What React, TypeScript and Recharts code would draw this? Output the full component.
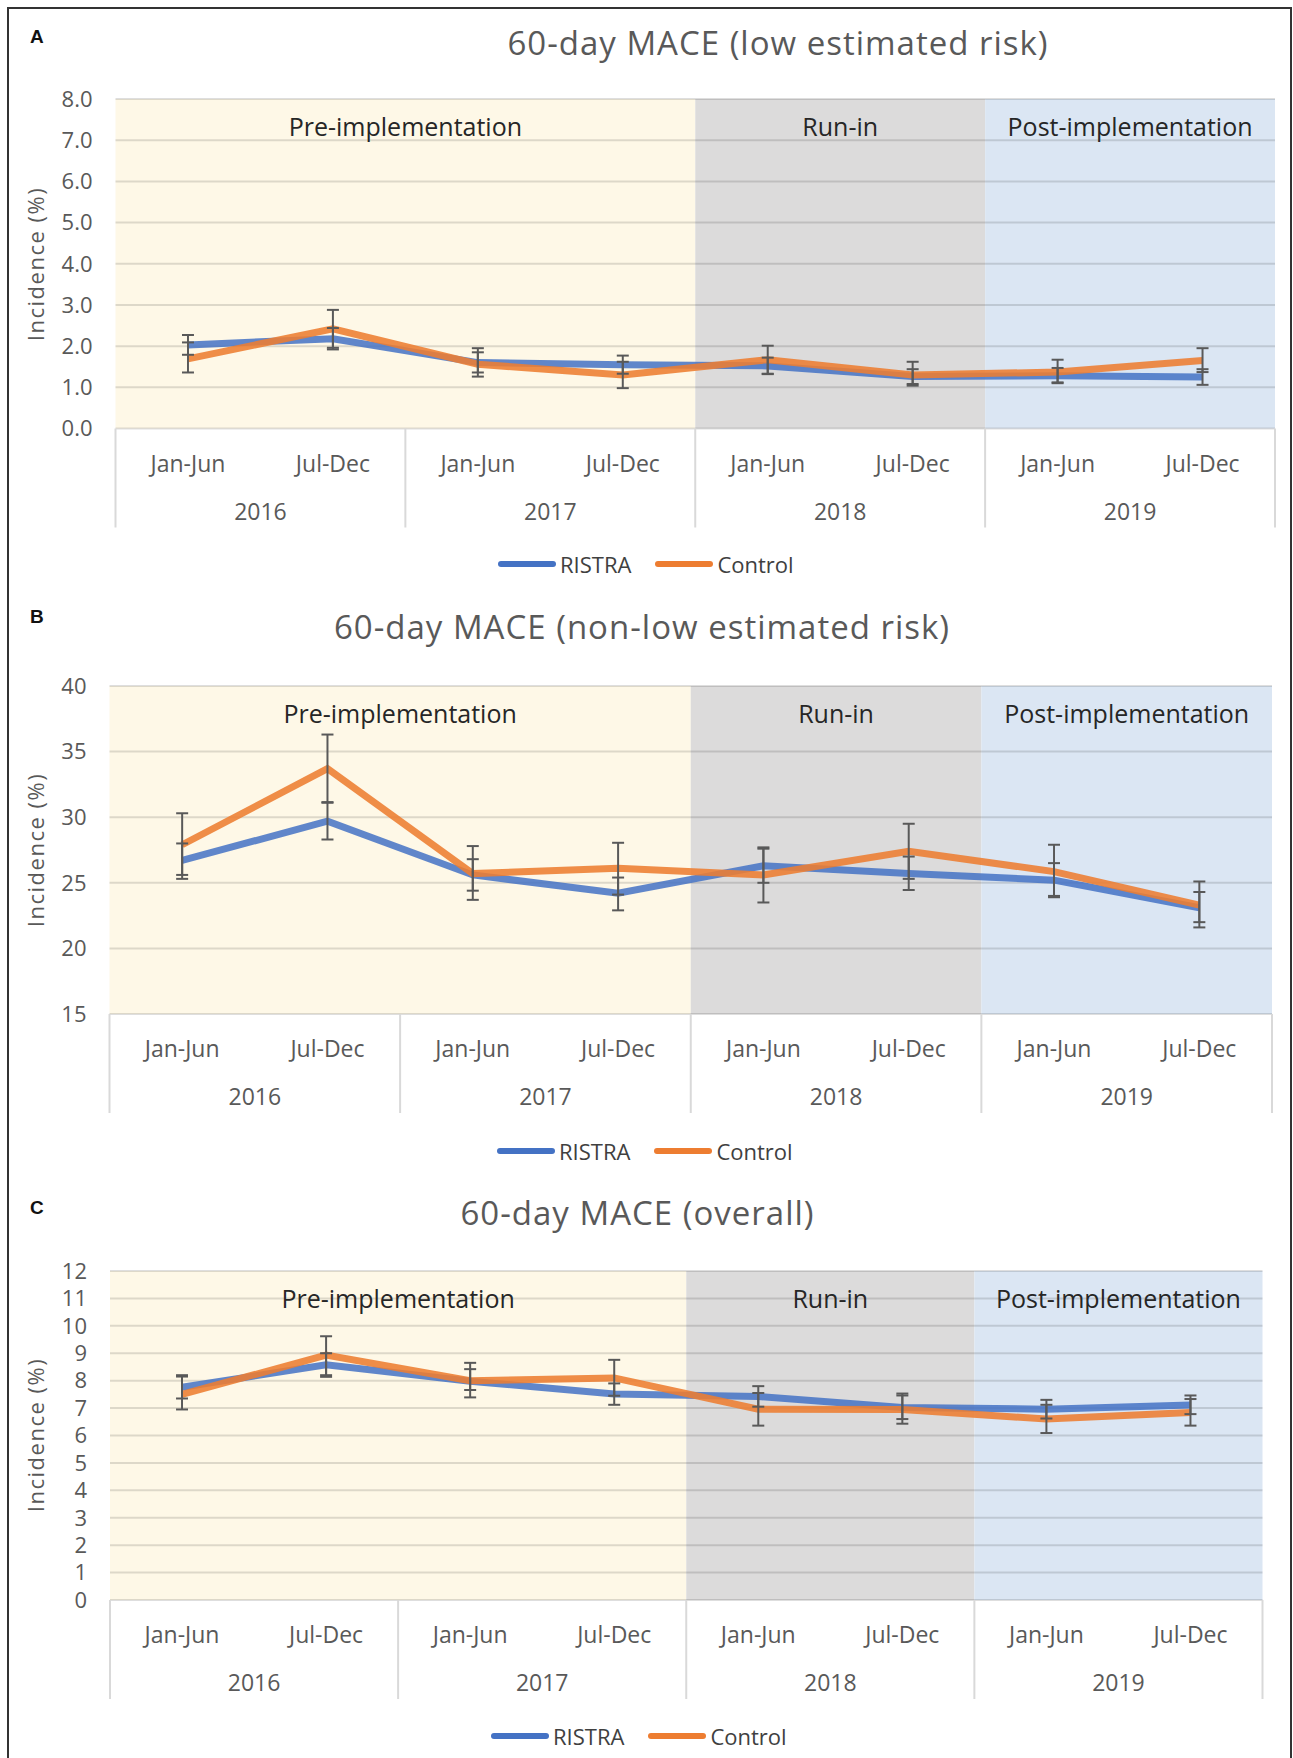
import { ErrorBar, Line, LineChart, ReferenceArea, ReferenceLine, XAxis, YAxis } from 'recharts';

// categories
const years = ['2016', '2017', '2018', '2019'];
const halves = ['Jan-Jun', 'Jul-Dec'];
const phases = ['Pre-implementation', 'Run-in', 'Post-implementation'];
const phaseLength = [4, 2, 2]; // number of half-year periods in each phase
const seriesNames = ['RISTRA', 'Control'];

// A: low estimated risk
const lowRistra = [2.03, 2.18, 1.6, 1.55, 1.52, 1.26, 1.28, 1.25];
const lowRistraLo = [1.79, 1.92, 1.36, 1.33, 1.32, 1.08, 1.12, 1.06];
const lowRistraHi = [2.27, 2.44, 1.85, 1.77, 1.72, 1.44, 1.47, 1.44];
const lowControl = [1.69, 2.42, 1.56, 1.3, 1.67, 1.3, 1.37, 1.65];
const lowControlLo = [1.36, 1.96, 1.26, 0.98, 1.33, 1.04, 1.1, 1.37];
const lowControlHi = [2.09, 2.88, 1.95, 1.62, 2.01, 1.62, 1.67, 1.95];
const lowTicks = [0, 1, 2, 3, 4, 5, 6, 7, 8];

// B: non-low estimated risk
const highRistra = [26.7, 29.7, 25.6, 24.2, 26.3, 25.7, 25.2, 23.1];
const highRistraLo = [25.3, 28.3, 24.4, 22.9, 25.0, 24.45, 24.0, 22.0];
const highRistraHi = [28.0, 31.15, 26.8, 25.4, 27.6, 27.0, 26.5, 24.3];
const highControl = [27.9, 33.7, 25.7, 26.1, 25.6, 27.4, 25.85, 23.3];
const highControlLo = [25.6, 31.1, 23.7, 24.1, 23.5, 25.3, 23.9, 21.6];
const highControlHi = [30.3, 36.3, 27.8, 28.05, 27.7, 29.5, 27.9, 25.1];
const highTicks = [15, 20, 25, 30, 35, 40];

// C: overall
const allRistra = [7.76, 8.58, 7.98, 7.51, 7.42, 7.02, 6.96, 7.11];
const allRistraLo = [7.35, 8.14, 7.66, 7.12, 7.05, 6.6, 6.62, 6.78];
const allRistraHi = [8.2, 9.0, 8.42, 7.9, 7.8, 7.46, 7.3, 7.46];
const allControl = [7.5, 8.93, 8.0, 8.1, 6.96, 6.95, 6.6, 6.84];
const allControlLo = [6.95, 8.2, 7.39, 7.45, 6.36, 6.43, 6.09, 6.36];
const allControlHi = [8.15, 9.62, 8.65, 8.76, 7.55, 7.53, 7.12, 7.33];
const allTicks = [0, 1, 2, 3, 4, 5, 6, 7, 8, 9, 10, 11, 12];

const seriesColors = ['#4472C4', '#ED7D31'];
const phaseFills = ['#FEF8E7', '#DCDBDB', '#DBE6F3'];
const textGray = '#595959';

const periods = years.flatMap((y) => halves.map((h) => ({ year: y, half: h })));
const xTicks = Array.from({ length: periods.length * 2 + 1 }, (_, i) => i / 2);

const makeRows = (r: number[], rLo: number[], rHi: number[], c: number[], cLo: number[], cHi: number[]) =>
  periods.map((p, i) => ({
    x: i + 0.5,
    label: p.half,
    ristra: r[i],
    ristraErr: [r[i] - rLo[i], rHi[i] - r[i]],
    control: c[i],
    controlErr: [c[i] - cLo[i], cHi[i] - c[i]],
  }));

const CategoryTick = (props: any) => {
  const { x, y, payload } = props;
  const v = payload.value;
  if (Number.isInteger(v)) {
    if (v % 2 === 0) {
      return <line x1={x} x2={x} y1={y} y2={y + 99} stroke="#D9D9D9" strokeWidth={2} />;
    }
    return (
      <text x={x} y={y + 91} textAnchor="middle" fill={textGray} fontSize={23}>
        {years[(v - 1) / 2]}
      </text>
    );
  }
  return (
    <text x={x} y={y + 43} textAnchor="middle" fill={textGray} fontSize={23}>
      {periods[Math.floor(v)].half}
    </text>
  );
};

const Panel = ({ p }: { p: any }) => {
  const { plotTop, plotBottom, plotLeft, plotRight } = p.box;
  const chartTop = plotTop - 20;
  const height = 20 + (plotBottom - plotTop) + 100;
  const rows = makeRows(p.r, p.rLo, p.rHi, p.c, p.cLo, p.cHi);
  const yMin = p.ticks[0];
  const yMax = p.ticks[p.ticks.length - 1];
  let start = 0;
  const areas = phases.map((name, i) => {
    const x1 = start;
    start += phaseLength[i];
    return { name, x1, x2: start, fill: phaseFills[i] };
  });

  return (
    <>
      <div
        style={{
          position: 'absolute',
          left: 30,
          top: p.letterY - 12,
          fontFamily: '"Liberation Sans", Arial, sans-serif',
          fontWeight: 700,
          fontSize: 19,
          lineHeight: '24px',
          color: '#111',
        }}
      >
        {p.letter}
      </div>
      <div
        style={{
          position: 'absolute',
          left: p.titleX,
          top: p.titleY,
          transform: 'translate(-50%, -50%)',
          whiteSpace: 'nowrap',
          fontSize: 33,
          letterSpacing: 1,
          lineHeight: 1,
          color: textGray,
        }}
      >
        {p.title}
      </div>
      <div
        style={{
          position: 'absolute',
          left: 35,
          top: (plotTop + plotBottom) / 2,
          transform: 'translate(-50%, -50%) rotate(-90deg)',
          whiteSpace: 'nowrap',
          fontSize: 22,
          letterSpacing: 1.5,
          lineHeight: 1,
          color: textGray,
        }}
      >
        Incidence (%)
      </div>
      <div style={{ position: 'absolute', left: 0, top: chartTop }}>
        <LineChart
          width={1293}
          height={height}
          data={rows}
          margin={{ top: 20, right: 1293 - plotRight, bottom: 0, left: 0 }}
        >
          {areas.map((a) => (
            <ReferenceArea
              key={a.name}
              x1={a.x1}
              x2={a.x2}
              y1={yMin}
              y2={yMax}
              fill={a.fill}
              fillOpacity={1}
              stroke="none"
              label={{ value: a.name, position: 'insideTop', offset: 19, fill: '#262626', fontSize: 25 }}
            />
          ))}
          {p.ticks.map((t: number) => (
            <ReferenceLine key={t} y={t} stroke="#000" strokeOpacity={0.13} strokeWidth={2} />
          ))}
          <XAxis
            type="number"
            dataKey="x"
            domain={[0, periods.length]}
            ticks={xTicks}
            interval={0}
            tick={<CategoryTick />}
            tickLine={false}
            axisLine={false}
            tickSize={0}
            tickMargin={0}
            height={100}
          />
          <YAxis
            type="number"
            domain={[yMin, yMax]}
            ticks={p.ticks}
            interval={0}
            width={plotLeft}
            tickLine={false}
            axisLine={false}
            tickSize={0}
            tickMargin={23}
            tick={{ fill: textGray, fontSize: 22 }}
            tickFormatter={(v: number) => v.toFixed(p.decimals)}
          />
          <Line
            dataKey="ristra"
            name={seriesNames[0]}
            stroke={seriesColors[0]}
            strokeOpacity={0.85}
            strokeWidth={7}
            dot={false}
            activeDot={false}
            isAnimationActive={false}
          />
          <Line
            dataKey="control"
            name={seriesNames[1]}
            stroke={seriesColors[1]}
            strokeOpacity={0.88}
            strokeWidth={7}
            dot={false}
            activeDot={false}
            isAnimationActive={false}
          />
          {/* error bars drawn over both lines */}
          <Line dataKey="ristra" stroke="none" dot={false} activeDot={false} legendType="none" isAnimationActive={false}>
            <ErrorBar dataKey="ristraErr" direction="y" width={6} stroke="#595959" strokeWidth={2} />
          </Line>
          <Line dataKey="control" stroke="none" dot={false} activeDot={false} legendType="none" isAnimationActive={false}>
            <ErrorBar dataKey="controlErr" direction="y" width={6} stroke="#595959" strokeWidth={2} />
          </Line>
        </LineChart>
      </div>
      <div
        style={{
          position: 'absolute',
          left: p.legendX,
          top: p.legendY - 15,
          height: 30,
          display: 'flex',
          alignItems: 'center',
          fontSize: 22,
          color: '#404040',
          whiteSpace: 'nowrap',
        }}
      >
        {seriesNames.map((n, i) => (
          <div key={n} style={{ display: 'flex', alignItems: 'center', marginRight: 24 }}>
            <span
              style={{
                display: 'inline-block',
                width: 58,
                height: 6,
                borderRadius: 3,
                background: seriesColors[i],
                marginRight: 4,
              }}
            />
            <span>{n}</span>
          </div>
        ))}
      </div>
    </>
  );
};

const App = () => {
  const panels = [
    {
      letter: 'A',
      title: '60-day MACE (low estimated risk)',
      r: lowRistra, rLo: lowRistraLo, rHi: lowRistraHi,
      c: lowControl, cLo: lowControlLo, cHi: lowControlHi,
      ticks: lowTicks,
      decimals: 1,
      box: { plotTop: 99, plotBottom: 428.5, plotLeft: 115.5, plotRight: 1275 },
      titleX: 778, titleY: 41.5, letterY: 37, legendX: 498, legendY: 564,
    },
    {
      letter: 'B',
      title: '60-day MACE (non-low estimated risk)',
      r: highRistra, rLo: highRistraLo, rHi: highRistraHi,
      c: highControl, cLo: highControlLo, cHi: highControlHi,
      ticks: highTicks,
      decimals: 0,
      box: { plotTop: 685.5, plotBottom: 1013.5, plotLeft: 109.5, plotRight: 1272 },
      titleX: 642, titleY: 626, letterY: 617, legendX: 497, legendY: 1150.5,
    },
    {
      letter: 'C',
      title: '60-day MACE (overall)',
      r: allRistra, rLo: allRistraLo, rHi: allRistraHi,
      c: allControl, cLo: allControlLo, cHi: allControlHi,
      ticks: allTicks,
      decimals: 0,
      box: { plotTop: 1270.5, plotBottom: 1599.5, plotLeft: 110, plotRight: 1262.5 },
      titleX: 637.5, titleY: 1212, letterY: 1208, legendX: 491, legendY: 1736,
    },
  ];

  return (
    <div
      style={{
        position: 'absolute',
        left: 0,
        top: 0,
        width: 1293,
        height: 1758,
        overflow: 'hidden',
        background: '#fff',
        fontFamily: '"Open Sans", sans-serif',
      }}
    >
      <div
        style={{
          position: 'absolute',
          left: 7,
          top: 7,
          width: 1281,
          height: 1800,
          borderLeft: '2px solid #333',
          borderTop: '2px solid #333',
          borderRight: '2px solid #333',
        }}
      />
      {panels.map((p) => (
        <Panel key={p.letter} p={p} />
      ))}
    </div>
  );
};

export default App;
